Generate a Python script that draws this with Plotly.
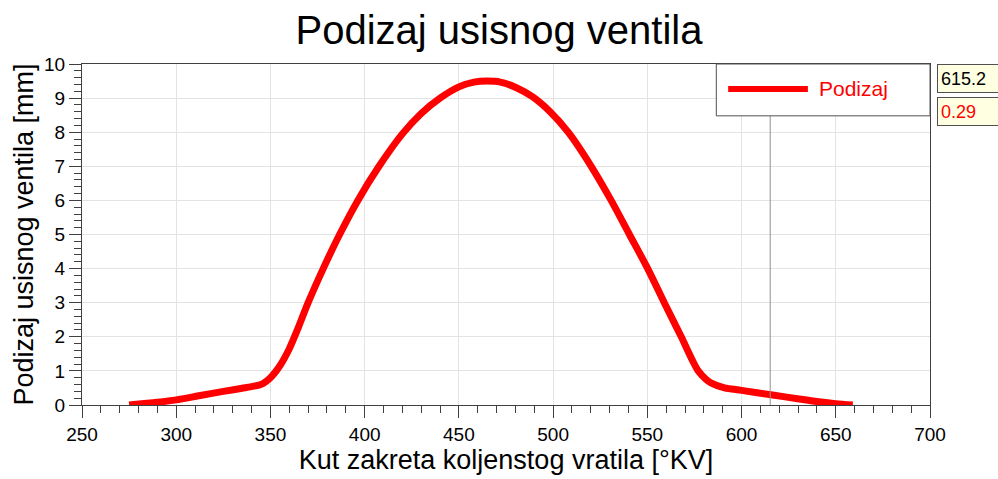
import plotly.graph_objects as go

# crank angle [deg] and intake valve lift [mm]
angle = [275, 290, 300, 312, 325, 335, 342, 346, 350, 355, 360, 365, 370, 378, 386.7,
         396.4, 407, 420, 430, 440, 450, 458, 465, 472, 480, 489, 498, 508,
         520.2, 530.8, 540.5, 550.2, 559, 568, 574, 577, 581, 584, 591, 600, 615.6,
         631.5, 640, 650, 659]
lift = [0.0, 0.08, 0.15, 0.27, 0.4, 0.49, 0.56, 0.63, 0.8, 1.15, 1.65, 2.3, 3.0, 4.0, 5.0,
        6.0, 6.95, 7.95, 8.55, 9.0, 9.33, 9.47, 9.5, 9.47, 9.32, 9.04, 8.62, 8.0,
        7.0, 6.0, 5.0, 4.0, 3.0, 2.0, 1.3, 1.0, 0.76, 0.64, 0.5, 0.43, 0.3,
        0.17, 0.1, 0.04, 0.0]

cursor_x = 615.2
cursor_y = 0.29

x_ticks = [250, 300, 350, 400, 450, 500, 550, 600, 650, 700]
y_ticks = list(range(0, 11))

tick_font = dict(family="Arial", size=19, color="black")

fig = go.Figure()

fig.add_trace(go.Scatter(x=angle, y=lift, mode="lines", name="Podizaj",
                         line=dict(color="#ff0000", width=7, shape="spline", smoothing=0.8),
                         showlegend=False))

# cursor line
fig.add_shape(type="line", xref="x", yref="paper", x0=cursor_x, x1=cursor_x, y0=0, y1=0.848,
              line=dict(color="#909090", width=1))

# legend box drawn by hand (longer sample line than plotly's own legend)
fig.add_shape(type="rect", xref="paper", yref="paper", x0=0.748, x1=1.0, y0=0.848, y1=1.0,
              line=dict(color="#505050", width=1), fillcolor="white")
fig.add_shape(type="line", xref="paper", yref="paper", x0=0.762, x1=0.856, y0=0.927, y1=0.927,
              line=dict(color="#ff0000", width=6))
fig.add_annotation(x=0.867, y=0.927, xref="paper", yref="paper", text="Podizaj",
                   showarrow=False, xanchor="left", yanchor="middle",
                   font=dict(family="Arial", size=21, color="#ff0000"))

# cursor value boxes
fig.add_annotation(x=1.008, y=1.0, xref="paper", yref="paper", text=f"{cursor_x:g}",
                   showarrow=False, xanchor="left", yanchor="top", align="left", valign="middle",
                   font=dict(family="Arial", size=18, color="black"),
                   bgcolor="#ffffe1", bordercolor="#505050", borderwidth=1, borderpad=3,
                   width=64, height=21)
fig.add_annotation(x=1.008, y=0.903, xref="paper", yref="paper", text=f"{cursor_y:g}",
                   showarrow=False, xanchor="left", yanchor="top", align="left", valign="middle",
                   font=dict(family="Arial", size=18, color="#ff0000"),
                   bgcolor="#ffffe1", bordercolor="#505050", borderwidth=1, borderpad=3,
                   width=64, height=21)

fig.update_layout(
    width=998, height=479,
    margin=dict(l=82, r=68, t=64, b=74),
    paper_bgcolor="white", plot_bgcolor="white",
    title=dict(text="Podizaj usisnog ventila", x=0.5, xanchor="center", y=0.938, yanchor="middle",
               font=dict(family="Arial", size=40, color="black")),
    xaxis=dict(range=[250, 700], tickvals=x_ticks, ticks="outside", ticklen=12, tickcolor="#404040",
               minor=dict(dtick=10, ticks="outside", ticklen=7, tickcolor="#404040", showgrid=False),
               showgrid=True, gridcolor="#e3e3e3", gridwidth=1, automargin=False,
               showline=True, linecolor="#404040", linewidth=1, mirror=True, zeroline=False,
               tickfont=tick_font,
               title=dict(text="Kut zakreta koljenstog vratila [°KV]", standoff=4,
                          font=dict(family="Arial", size=27, color="black"))),
    yaxis=dict(range=[0, 10], tickvals=y_ticks, ticks="outside", ticklen=12, tickcolor="#404040",
               minor=dict(dtick=0.2, ticks="outside", ticklen=7, tickcolor="#404040", showgrid=False),
               showgrid=True, gridcolor="#e3e3e3", gridwidth=1, automargin=False,
               showline=True, linecolor="#404040", linewidth=1, mirror=True, zeroline=False,
               tickfont=tick_font,
               title=dict(text="Podizaj usisnog ventila [mm]", standoff=2,
                          font=dict(family="Arial", size=27, color="black"))),
)

fig.write_html("out.html", config={"displayModeBar": False},
               post_script="document.body.style.margin='0px';")
